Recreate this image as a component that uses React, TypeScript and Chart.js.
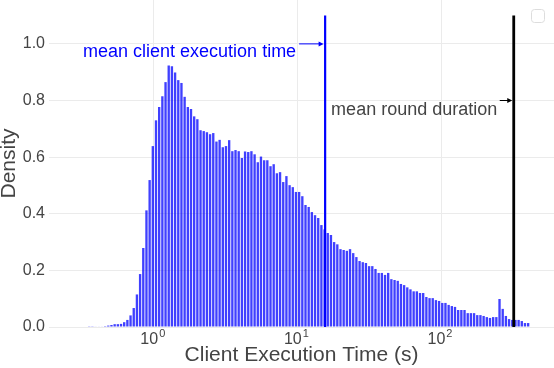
import React, { useEffect, useRef } from 'react';
import { Chart, registerables } from 'chart.js';

Chart.register(...registerables);

// Histogram bins are equally spaced in log10(seconds)
const binLog10Start = -0.4498; // centre of the first bin (log10 s)
const binLog10Width = 0.02215;
const density = [
  0.001, 0.001, 0.002, 0.002, 0.002, 0.003,
  0.005, 0.007, 0.010, 0.010, 0.011, 0.017, 0.025, 0.041, 0.067, 0.115,
  0.187, 0.279, 0.412, 0.519, 0.639, 0.730, 0.777, 0.815, 0.865, 0.924,
  0.921, 0.899, 0.872, 0.862, 0.813, 0.777, 0.770, 0.744, 0.734, 0.695,
  0.692, 0.688, 0.681, 0.685, 0.655, 0.661, 0.635, 0.639, 0.660, 0.621,
  0.625, 0.621, 0.597, 0.620, 0.618, 0.621, 0.610, 0.582, 0.602, 0.589,
  0.589, 0.568, 0.575, 0.543, 0.547, 0.512, 0.533, 0.501, 0.494, 0.477,
  0.477, 0.462, 0.431, 0.424, 0.406, 0.395, 0.385, 0.360, 0.345, 0.332,
  0.325, 0.300, 0.292, 0.275, 0.272, 0.269, 0.275, 0.261, 0.247, 0.233,
  0.229, 0.226, 0.215, 0.215, 0.205, 0.191, 0.191, 0.184, 0.191, 0.169,
  0.166, 0.163, 0.152, 0.148, 0.140, 0.133, 0.126, 0.126, 0.120, 0.120,
  0.106, 0.102, 0.102, 0.095, 0.092, 0.085, 0.085, 0.078, 0.074, 0.071,
  0.060, 0.060, 0.060, 0.049, 0.049, 0.049, 0.042, 0.042, 0.039, 0.035,
  0.032, 0.035, 0.035, 0.099, 0.064, 0.039, 0.028, 0.025, 0.025, 0.025,
  0.021, 0.014, 0.014,
];

const meanClientExecutionTime = 15.6; // seconds
const meanRoundDuration = 321; // seconds
const markerTop = 1.1;
const yAxisMax = 1.155;
const xAxisMin = -0.7298; // log10 s
const xAxisMax = 2.7869; // log10 s
const xTickExponents = [0, 1, 2];
const yTickValues = [0, 0.2, 0.4, 0.6, 0.8, 1.0];
const clientLabel = 'mean client execution time';
const roundLabel = 'mean round duration';
const clientArrowY = 1.0;
const roundArrowY = 0.8;
const xTitle = 'Client Execution Time (s)';
const yTitle = 'Density';

const FONT = '"Liberation Sans", Arial, sans-serif';
const TEXT = '#444444';

const overlayPlugin = {
  id: 'overlay',
  afterDatasetsDraw(chart: any) {
    const { ctx, scales } = chart;
    const xs = scales.x;
    const ys = scales.y;
    ctx.save();

    const drawArrow = (x0: number, x1: number, y: number, color: string) => {
      ctx.strokeStyle = color;
      ctx.fillStyle = color;
      ctx.lineWidth = 1;
      ctx.beginPath();
      ctx.moveTo(x0, y);
      ctx.lineTo(x1 - 3, y);
      ctx.stroke();
      ctx.beginPath();
      ctx.moveTo(x1, y);
      ctx.lineTo(x1 - 5, y - 2.5);
      ctx.lineTo(x1 - 5, y + 2.5);
      ctx.closePath();
      ctx.fill();
    };

    // client annotation
    const cx = xs.getPixelForValue(Math.log10(meanClientExecutionTime));
    const cy = ys.getPixelForValue(clientArrowY);
    drawArrow(cx - 26, cx - 1.5, cy, '#0000ff');
    ctx.font = `18px ${FONT}`;
    ctx.fillStyle = '#0000ff';
    ctx.textAlign = 'right';
    ctx.textBaseline = 'alphabetic';
    ctx.fillText(clientLabel, cx - 29, cy + 13);

    // round annotation
    const rx = xs.getPixelForValue(Math.log10(meanRoundDuration));
    const ry = ys.getPixelForValue(roundArrowY);
    drawArrow(rx - 14, rx - 1.5, ry, '#000000');
    ctx.fillStyle = TEXT;
    ctx.fillText(roundLabel, rx - 16.5, ry + 14);

    ctx.restore();
  },
  afterDraw(chart: any) {
    const { ctx, scales } = chart;
    const xs = scales.x;
    ctx.save();
    // x tick labels 10^n
    for (const e of xTickExponents) {
      const px = xs.getPixelForValue(e);
      ctx.font = `16px ${FONT}`;
      const wBase = ctx.measureText('10').width;
      ctx.font = `11px ${FONT}`;
      const wSup = ctx.measureText(String(e)).width;
      const start = px - (wBase + wSup + 1) / 2 - 1;
      ctx.fillStyle = TEXT;
      ctx.textAlign = 'left';
      ctx.textBaseline = 'alphabetic';
      ctx.font = `16px ${FONT}`;
      ctx.fillText('10', start, 343.5);
      ctx.font = `11px ${FONT}`;
      ctx.fillText(String(e), start + wBase + 1, 336.5);
    }
    // empty legend box
    ctx.strokeStyle = '#dddddd';
    ctx.lineWidth = 1;
    ctx.beginPath();
    (ctx as any).roundRect(531.5, 9.5, 13, 13, 3);
    ctx.stroke();
    ctx.restore();
  },
};

export default function App() {
  const ref = useRef<HTMLCanvasElement>(null);
  useEffect(() => {
    if (!ref.current) return;
    const bars = density.map((d, i) => ({ x: binLog10Start + i * binLog10Width, y: d }));
    const lc = Math.log10(meanClientExecutionTime);
    const lr = Math.log10(meanRoundDuration);
    const chart = new Chart(ref.current, {
      type: 'bar',
      data: {
        datasets: [
          {
            type: 'bar',
            data: bars,
            backgroundColor: 'rgba(0,0,255,0.75)',
            borderWidth: 0,
            barPercentage: 0.74,
            categoryPercentage: 1.0,
            order: 3,
          } as any,
          {
            type: 'line',
            data: [{ x: lc, y: 0 }, { x: lc, y: markerTop }],
            borderColor: '#0000ff',
            borderWidth: 2.2,
            pointRadius: 0,
            order: 1,
          } as any,
          {
            type: 'line',
            data: [{ x: lr, y: 0 }, { x: lr, y: markerTop }],
            borderColor: '#000000',
            borderWidth: 2.8,
            pointRadius: 0,
            order: 1,
          } as any,
        ],
      },
      options: {
        animation: false,
        responsive: false,
        devicePixelRatio: 1,
        layout: { padding: { left: 0, right: 0, top: 0, bottom: 0 } },
        plugins: { legend: { display: false }, tooltip: { enabled: false } },
        scales: {
          x: {
            type: 'linear',
            min: xAxisMin,
            max: xAxisMax,
            offset: false,
            grid: { color: '#ebebeb', drawTicks: false, lineWidth: 1, offset: false },
            border: { display: false },
            ticks: { display: false },
            afterBuildTicks: (s: any) => {
              s.ticks = xTickExponents.map((v) => ({ value: v }));
            },
            afterFit: (s: any) => {
              s.height = 41;
              s.paddingLeft = 0;
              s.paddingRight = 0;
            },
            title: {
              display: true,
              text: xTitle,
              color: TEXT,
              font: { family: FONT, size: 21, lineHeight: 1.2 },
              padding: 0,
            },
          },
          y: {
            type: 'linear',
            min: 0,
            max: yAxisMax,
            grid: { color: '#ebebeb', drawTicks: false, lineWidth: 1 },
            border: { display: false },
            afterBuildTicks: (s: any) => {
              s.ticks = yTickValues.map((v) => ({ value: v }));
            },
            ticks: {
              color: TEXT,
              font: { family: FONT, size: 16 },
              padding: 4,
              callback: (v: any) => Number(v).toFixed(1),
            },
            afterFit: (s: any) => {
              s.width = 49;
              s.paddingTop = 0;
              s.paddingBottom = 0;
            },
            title: {
              display: true,
              text: yTitle,
              color: TEXT,
              font: { family: FONT, size: 21, lineHeight: 0.9 },
              padding: 0,
            },
          },
        },
      },
      plugins: [overlayPlugin],
    });
    return () => chart.destroy();
  }, []);
  return (
    <div style={{ position: 'fixed', left: 0, top: 0, width: 554, height: 368, background: '#fff' }}>
      <canvas ref={ref} width={554} height={368} style={{ display: 'block', width: 554, height: 368 }} />
    </div>
  );
}
